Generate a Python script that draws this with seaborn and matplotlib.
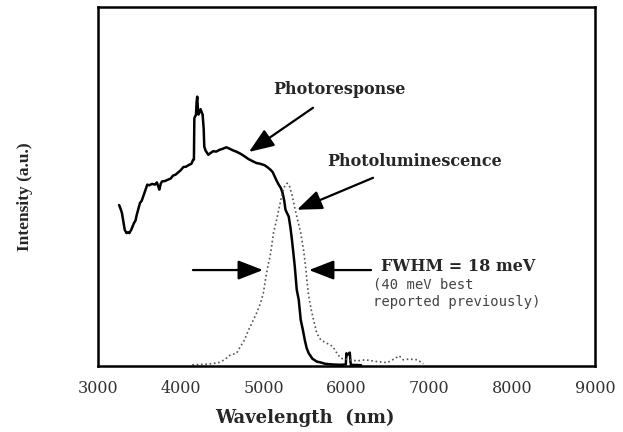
import matplotlib
matplotlib.use("Agg")
import matplotlib.pyplot as plt
import seaborn as sns
import pandas as pd

# Photoresponse spectrum (solid line)
pr_wavelength = [3257, 3271, 3291, 3325, 3346, 3364, 3380, 3403, 3437, 3455, 3470, 3509, 3530,
                 3548, 3575, 3597, 3620, 3655, 3690, 3713, 3730, 3742, 3760, 3776, 3810,
                 3849, 3880, 3907, 3940, 3970, 4000, 4033, 4065, 4101, 4130, 4150, 4160,
                 4165, 4185, 4192, 4200, 4208, 4215, 4240, 4265, 4278, 4285, 4300, 4334,
                 4360, 4392, 4430, 4470, 4510, 4552, 4590, 4635, 4680, 4722, 4770, 4819,
                 4870, 4916, 4960, 5013, 5050, 5086, 5110, 5134, 5160, 5183, 5210, 5231,
                 5250, 5265, 5285, 5304, 5325, 5343, 5360, 5377, 5401, 5425, 5449, 5475,
                 5498, 5520, 5546, 5590, 5643, 5700, 5740, 5830, 5934, 5993, 6000, 6007,
                 6041, 6050, 6056, 6177]
pr_intensity = [0.448, 0.440, 0.426, 0.379, 0.370, 0.372, 0.370, 0.379, 0.398, 0.405, 0.421, 0.454,
                0.460, 0.472, 0.490, 0.505, 0.503, 0.507, 0.505, 0.511, 0.500, 0.491, 0.508, 0.514,
                0.515, 0.519, 0.522, 0.530, 0.533, 0.539, 0.545, 0.554, 0.555, 0.560, 0.563, 0.574,
                0.575, 0.690, 0.700, 0.735, 0.750, 0.715, 0.700, 0.715, 0.700, 0.660, 0.611, 0.600,
                0.588, 0.593, 0.598, 0.597, 0.602, 0.605, 0.609, 0.605, 0.600, 0.596, 0.591, 0.584,
                0.576, 0.570, 0.565, 0.563, 0.559, 0.553, 0.546, 0.540, 0.528, 0.515, 0.505, 0.495,
                0.481, 0.460, 0.435, 0.425, 0.416, 0.385, 0.351, 0.315, 0.277, 0.212, 0.184, 0.128,
                0.100, 0.072, 0.050, 0.035, 0.020, 0.012, 0.009, 0.006, 0.004, 0.003, 0.004, 0.035,
                0.030, 0.037, 0.010, 0.003, 0.002]

# Photoluminescence spectrum (dotted line)
pl_wavelength = [4140, 4334, 4455, 4528, 4601, 4673, 4722, 4770, 4819, 4867, 4916, 4964,
                 4998, 5023, 5052, 5086, 5120, 5158, 5192, 5222, 5255, 5285, 5314, 5343,
                 5377, 5411, 5449, 5483, 5508, 5527, 5546, 5576, 5609, 5643, 5692, 5765,
                 5837, 5886, 5934, 6032, 6129, 6226, 6371, 6492, 6589, 6638, 6686, 6759,
                 6856, 6929]
pl_intensity = [0.003, 0.005, 0.009, 0.017, 0.031, 0.035, 0.054, 0.072, 0.100, 0.123, 0.147, 0.175,
                0.203, 0.240, 0.277, 0.314, 0.370, 0.407, 0.444, 0.477, 0.500, 0.509, 0.500, 0.477,
                0.440, 0.407, 0.370, 0.323, 0.277, 0.230, 0.193, 0.156, 0.123, 0.091, 0.072, 0.063,
                0.054, 0.035, 0.021, 0.017, 0.014, 0.017, 0.012, 0.009, 0.021, 0.028, 0.017, 0.019,
                0.017, 0.006]

x_ticks = [3000, 4000, 5000, 6000, 7000, 8000, 9000]

sns.set_style("white")
plt.rcParams["font.family"] = ["DejaVu Serif"]

fig = plt.figure(figsize=(6.23, 4.32), dpi=100)
ax = fig.add_axes([0.157, 0.153, 0.798, 0.831])

pr = pd.DataFrame({"wavelength": pr_wavelength, "intensity": pr_intensity})
pl = pd.DataFrame({"wavelength": pl_wavelength, "intensity": pl_intensity})

sns.lineplot(data=pr, x="wavelength", y="intensity", ax=ax, color="black",
             linewidth=1.8, sort=False)
sns.lineplot(data=pl, x="wavelength", y="intensity", ax=ax, color="#555555",
             linewidth=1.2, linestyle=(0, (1, 1.6)), sort=False)

ax.set_xlim(3000, 9000)
ax.set_ylim(0, 1)
ax.set_xticks(x_ticks)
ax.set_xticklabels([str(t) for t in x_ticks], fontsize=11.5, color="#333333",
                   family="DejaVu Serif")
ax.set_yticks([])
ax.tick_params(axis="x", direction="out", length=6, width=1.4, color="black", pad=4)

for side in ["left", "right", "top", "bottom"]:
    ax.spines[side].set_visible(True)
    ax.spines[side].set_color("black")
    ax.spines[side].set_linewidth(1.8)

ax.set_xlabel("Wavelength  (nm)", fontsize=13, fontweight="bold")
ax.xaxis.set_label_coords(0.417, -0.118)
ax.set_ylabel("Intensity (a.u.)", fontsize=12.5, fontweight="bold", family="Liberation Serif")
ax.yaxis.set_label_coords(-0.13, 0.47)

arrow = dict(arrowstyle="-|>,head_length=0.9,head_width=0.35", color="black",
             lw=1.6, mutation_scale=17, shrinkA=0, shrinkB=0)

ax.text(5114, 0.77, "Photoresponse", fontsize=11.5, fontweight="bold", ha="left", va="center")
ax.annotate("", xy=(4824, 0.596), xytext=(5597, 0.719), arrowprops=arrow)

ax.text(5766, 0.568, "Photoluminescence", fontsize=11.5, fontweight="bold", ha="left", va="center")
ax.annotate("", xy=(5404, 0.435), xytext=(6322, 0.524), arrowprops=arrow)

ax.annotate("", xy=(4993, 0.267), xytext=(4148, 0.267), arrowprops=arrow)
ax.annotate("", xy=(5549, 0.267), xytext=(6298, 0.267), arrowprops=arrow)

ax.text(6419, 0.276, "FWHM = 18 meV", fontsize=11.5, fontweight="bold", ha="left", va="center")
ax.text(6322, 0.226, "(40 meV best", fontsize=10, color="#444444", ha="left", va="center",
        family="DejaVu Sans Mono")
ax.text(6322, 0.178, "reported previously)", fontsize=10, color="#444444", ha="left",
        va="center", family="DejaVu Sans Mono")

fig.savefig("out.png", dpi=100)
